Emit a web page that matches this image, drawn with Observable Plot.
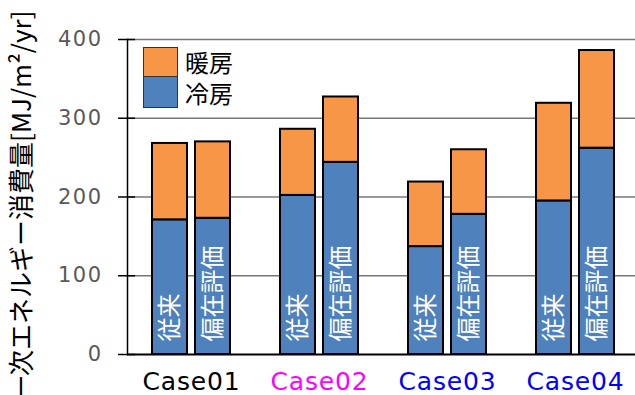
<!DOCTYPE html>
<html>
<head>
<meta charset="utf-8">
<script src="https://cdn.jsdelivr.net/npm/d3@7"></script>
<script src="https://cdn.jsdelivr.net/npm/@observablehq/plot@0.6"></script>
<style>
  body { margin: 0; background: #fff; }
  #wrap { position: relative; width: 635px; height: 395px; overflow: hidden; background: #fff; }
  #legend { position: absolute; left: 143px; top: 47px; font-family: "Noto Sans CJK JP", sans-serif; font-size: 24px; color: #000; }
  #legend .row { display: flex; align-items: center; }
  #legend .sw { width: 35px; box-sizing: border-box; border: 1px solid #333; }
  #legend .lbl { display: block; margin-left: 7px; height: 24px; line-height: 24px; overflow: visible; }
  .case-label text { letter-spacing: 0.8px; }
  .tick-label text { letter-spacing: 1.5px; }
</style>
</head>
<body>
<div id="wrap">
  <div id="chart"></div>
  <div id="legend"></div>
</div>
<script>
// Cases along the x axis and the colour of each case label
const cases = ["Case01", "Case02", "Case03", "Case04"];
const caseColors = ["#000000", "#ff00ff", "#0000ff", "#0000ff"];

// Two evaluation methods per case
const methods = ["従来", "偏在評価"];

// Primary energy consumption [MJ/m²/yr]
const coolingConventional = [171, 202, 137, 195];
const heatingConventional = [97, 84, 82, 124];
const coolingUneven = [173, 244, 178, 262];
const heatingUneven = [97, 83, 82, 124];

// Stack series (bottom first) and their fills
const seriesNames = ["冷房", "暖房"];
const seriesColors = ["#4f81bd", "#f79646"];

const yTicks = [0, 100, 200, 300, 400];
const yTitle = "一次エネルギー消費量[MJ/m²/yr]";

const seriesByMethod = {
  "従来": [coolingConventional, heatingConventional],
  "偏在評価": [coolingUneven, heatingUneven]
};

const rows = [];
cases.forEach((c, i) => {
  methods.forEach(m => {
    seriesNames.forEach((s, k) => {
      rows.push({case: c, method: m, series: s, value: seriesByMethod[m][k][i]});
    });
  });
});

const barLabels = cases.flatMap(c => methods.map(m => ({case: c, method: m})));

const chart = Plot.plot({
  width: 635,
  height: 395,
  marginLeft: 127,
  marginRight: -4,
  marginTop: 39,
  marginBottom: 41,
  style: {fontFamily: "'DejaVu Sans', 'Noto Sans CJK JP', sans-serif", background: "#fff"},
  fx: {domain: cases, padding: 0, round: false, axis: null, label: null},
  x: {domain: methods, paddingInner: 8 / 43, paddingOuter: 25 / 43, align: 0.5, round: false, axis: null},
  y: {domain: [0, 400], label: null},
  marks: [
    // horizontal gridlines
    Plot.ruleY(yTicks.slice(1), {stroke: "#777", strokeWidth: 1.5}),
    // stacked bars: cooling below, heating above
    Plot.barY(rows, {
      fx: "case",
      x: "method",
      y: "value",
      fill: d => seriesColors[seriesNames.indexOf(d.series)],
      stroke: "#000",
      strokeWidth: 2
    }),
    // baseline
    Plot.ruleY([0], {stroke: "#000", strokeWidth: 2}),
    // tick marks crossing into the plot area
    Plot.ruleY(yTicks, {stroke: "#000", strokeWidth: 1.5, insetRight: 120, facetAnchor: "left"}),
    Plot.axisY({
      ticks: yTicks,
      tickSize: 9,
      tickPadding: 16,
      stroke: "#000",
      strokeWidth: 1.5,
      fill: "#595959",
      fontSize: 21,
      label: null,
      className: "tick-label"
    }),
    // vertical axis line
    Plot.frame({anchor: "left", stroke: "#000", strokeWidth: 1.5, facetAnchor: "left"}),
    // method names written inside each bar
    Plot.text(barLabels, {
      fx: "case",
      x: "method",
      text: "method",
      frameAnchor: "bottom",
      dy: -13,
      rotate: -90,
      textAnchor: "start",
      lineAnchor: "middle",
      fill: "#fff",
      fontSize: 24,
      fontFamily: "'Noto Sans CJK JP', sans-serif"
    }),
    // case labels under each group
    Plot.text(cases, {
      fx: d => d,
      text: d => d,
      frameAnchor: "bottom",
      lineAnchor: "top",
      dy: 18,
      fill: (d, i) => caseColors[i],
      fontSize: 25,
      className: "case-label"
    }),
    // y-axis title
    Plot.text([yTitle], {
      frameAnchor: "top-left",
      dx: -105,
      dy: -29,
      rotate: -90,
      textAnchor: "end",
      lineAnchor: "middle",
      fill: "#000",
      fontSize: 26,
      fontFamily: "'Noto Sans CJK JP', sans-serif",
      facetAnchor: "left"
    })
  ]
});
document.getElementById("chart").appendChild(chart);

// Legend inside the plot area: heating on top, cooling below
const legend = document.getElementById("legend");
const legendOrder = [1, 0];
const swatchHeights = [31, 30];
legendOrder.forEach((k, j) => {
  const row = document.createElement("div");
  row.className = "row";
  const sw = document.createElement("div");
  sw.className = "sw";
  sw.style.background = seriesColors[k];
  sw.style.height = swatchHeights[k] + "px";
  if (j > 0) sw.style.borderTop = "none";
  const lbl = document.createElement("span");
  lbl.className = "lbl";
  lbl.textContent = seriesNames[k];
  row.appendChild(sw);
  row.appendChild(lbl);
  legend.appendChild(row);
});
</script>
</body>
</html>
